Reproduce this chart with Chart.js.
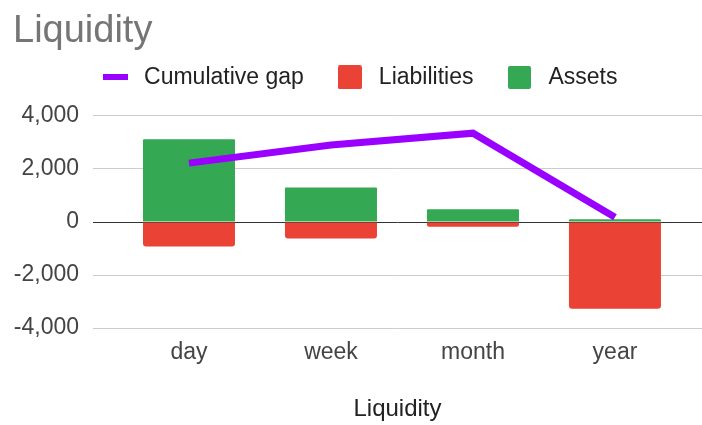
<!DOCTYPE html>
<html>
<head>
<meta charset="utf-8">
<script src="https://cdn.jsdelivr.net/npm/chart.js@4"></script>
<style>
  html, body { margin: 0; padding: 0; background: #fff; }
</style>
</head>
<body>
<canvas id="liquidityChart" width="702" height="425"></canvas>
<script>
const periods = ['day', 'week', 'month', 'year'];
const assets = [3120, 1300, 480, 100];
const liabilities = [-920, -620, -180, -3270];
const cumulativeGap = [2220, 2900, 3350, 180];
const yTicks = [-4000, -2000, 0, 2000, 4000];

const GAP_COLOR = '#9900ff';
const LIAB_COLOR = '#ea4335';
const ASSET_COLOR = '#34a853';

Chart.defaults.font.family = '"Liberation Sans", Arial, sans-serif';

// small canvases used as legend markers (line stroke vs. square swatch)
function legendMarker(color, w, h, r) {
    const c = document.createElement('canvas');
    c.width = w;
    c.height = h;
    const ctx = c.getContext('2d');
    ctx.fillStyle = color;
    ctx.beginPath();
    ctx.roundRect(0, 0, w, h, r);
    ctx.fill();
    return c;
}
const markers = [
    legendMarker(GAP_COLOR, 25, 6, 0),
    legendMarker(LIAB_COLOR, 24, 24, 2),
    legendMarker(ASSET_COLOR, 23, 23, 2)
];

function toPoints(values) {
    return values.map((v, i) => ({ x: i, y: v }));
}

// legend needs some extra room below it
const legendMargin = {
    id: 'legendMargin',
    beforeInit(chart) {
        const fit = chart.legend.fit;
        chart.legend.fit = function () {
            fit.bind(chart.legend)();
            this.height += 17;
        };
    }
};

const ctx = document.getElementById('liquidityChart').getContext('2d');
new Chart(ctx, {
    type: 'bar',
    data: {
        datasets: [{
            type: 'line',
            label: 'Cumulative gap',
            data: toPoints(cumulativeGap),
            stack: 'gap',
            borderColor: GAP_COLOR,
            backgroundColor: GAP_COLOR,
            borderWidth: 7,
            borderCapStyle: 'butt',
            borderJoinStyle: 'miter',
            pointRadius: 0,
            tension: 0
        }, {
            label: 'Liabilities',
            data: toPoints(liabilities),
            stack: 'balance',
            backgroundColor: LIAB_COLOR,
            borderRadius: 3,
            categoryPercentage: 1,
            barPercentage: 0.648
        }, {
            label: 'Assets',
            data: toPoints(assets),
            stack: 'balance',
            backgroundColor: ASSET_COLOR,
            borderRadius: 1,
            categoryPercentage: 1,
            barPercentage: 0.648
        }]
    },
    options: {
        responsive: false,
        animation: false,
        events: [],
        layout: { padding: { left: 13, right: 0, top: 0, bottom: 0 } },
        plugins: {
            title: {
                display: true,
                text: 'Liquidity',
                align: 'start',
                color: '#757575',
                font: { size: 38, weight: 'normal', lineHeight: 0.6 },
                padding: { top: 20.6, bottom: -6 }
            },
            legend: {
                position: 'top',
                labels: {
                    usePointStyle: true,
                    pointStyleWidth: 35,
                    padding: 28.5,
                    color: '#222',
                    font: { size: 23 },
                    generateLabels(chart) {
                        const items = Chart.defaults.plugins.legend.labels.generateLabels(chart);
                        items.forEach(item => { item.pointStyle = markers[item.datasetIndex]; });
                        return items;
                    }
                }
            },
            tooltip: { enabled: false }
        },
        scales: {
            x: {
                type: 'linear',
                offset: false,
                min: -0.676,
                max: 3.613,
                stacked: true,
                grid: { display: false, offset: false },
                border: { display: false },
                ticks: {
                    stepSize: 1,
                    includeBounds: false,
                    autoSkip: false,
                    maxRotation: 0,
                    color: '#444',
                    font: { size: 23 },
                    padding: 3,
                    callback: value => periods[value] ?? ''
                },
                title: {
                    display: true,
                    text: 'Liquidity',
                    color: '#222',
                    font: { size: 24 },
                    padding: { top: 25.5, bottom: 1 }
                }
            },
            y: {
                stacked: true,
                min: yTicks[0],
                max: yTicks[yTicks.length - 1],
                afterFit(scale) {
                    scale.width = 80;
                },
                grid: {
                    drawTicks: false,
                    color: c => c.tick.value === 0 ? '#333' : '#ccc'
                },
                border: { display: false },
                ticks: {
                    stepSize: yTicks[1] - yTicks[0],
                    padding: 14,
                    color: '#444',
                    font: { size: 23 },
                    callback: value => value.toLocaleString('en-US')
                }
            }
        }
    },
    plugins: [legendMargin]
});
</script>
</body>
</html>
